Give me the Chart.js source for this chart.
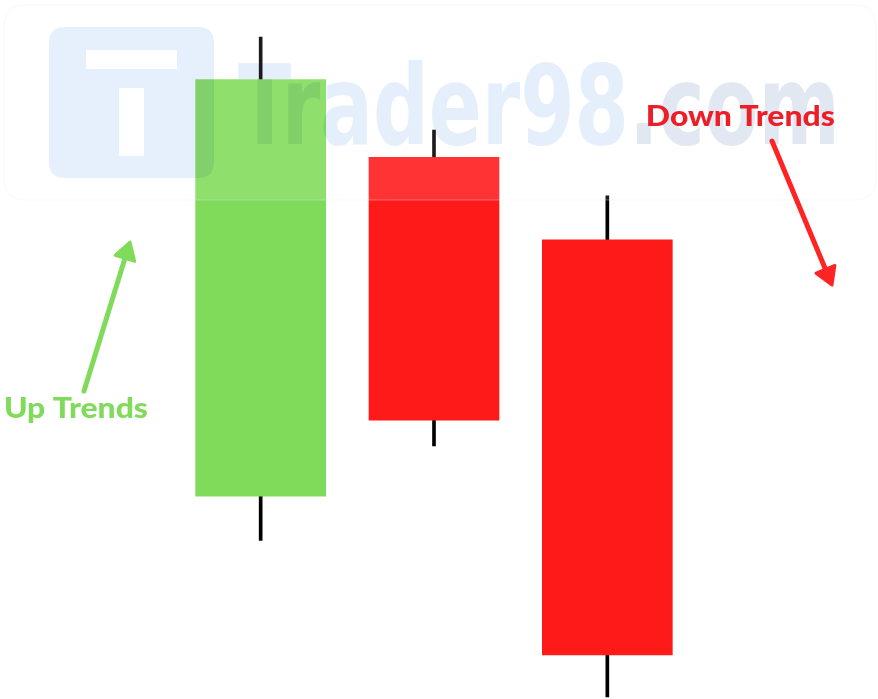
<!DOCTYPE html>
<html>
<head>
<meta charset="utf-8">
<script src="https://cdn.jsdelivr.net/npm/chart.js@4.4.0/dist/chart.umd.min.js"></script>
<style>
html,body{margin:0;padding:0;background:#fff;}
#c{display:block;}
</style>
</head>
<body>
<canvas id="c" width="878" height="699"></canvas>
<script>
// ---- data ----
const categories = ["Candle 1", "Candle 2", "Candle 3"];
const openValues  = [29.0, 77.5, 65.7];
const closeValues = [88.6, 39.9, 6.3];
const highValues  = [94.7, 81.4, 72.0];
const lowValues   = [22.7, 36.2, 0.3];
const annotationLabels = ["Up Trends", "Down Trends"];
const watermarkText = ["Trader98", ".com"];

const GREEN = "#80DB5A", RED = "#FF1A1A";

const bodies = openValues.map((o, i) => [o, closeValues[i]]);
const wicks = lowValues.map((l, i) => [l, highValues[i]]);
const bodyColors = openValues.map((o, i) => closeValues[i] >= o ? GREEN : RED);

function roundRect(ctx, x, y, w, h, r) {
  ctx.beginPath();
  ctx.moveTo(x + r, y);
  ctx.lineTo(x + w - r, y);
  ctx.quadraticCurveTo(x + w, y, x + w, y + r);
  ctx.lineTo(x + w, y + h - r);
  ctx.quadraticCurveTo(x + w, y + h, x + w - r, y + h);
  ctx.lineTo(x + r, y + h);
  ctx.quadraticCurveTo(x, y + h, x, y + h - r);
  ctx.lineTo(x, y + r);
  ctx.quadraticCurveTo(x, y, x + r, y);
  ctx.closePath();
}

function fitText(ctx, text, left, baseline, width, size, font, color) {
  ctx.save();
  ctx.font = font.replace("SIZE", size + "px");
  const m = ctx.measureText(text);
  const w = m.actualBoundingBoxLeft + m.actualBoundingBoxRight;
  const sx = width / w;
  ctx.translate(left, baseline);
  ctx.scale(sx, 1);
  ctx.fillStyle = color;
  ctx.textBaseline = "alphabetic";
  ctx.fillText(text, m.actualBoundingBoxLeft, 0);
  ctx.restore();
}

function arrow(ctx, x1, y1, x2, y2, color, lw, head) {
  ctx.save();
  ctx.strokeStyle = color; ctx.fillStyle = color;
  ctx.lineWidth = lw; ctx.lineCap = "round"; ctx.lineJoin = "round";
  const a = Math.atan2(y2 - y1, x2 - x1);
  const bx = x2 - head * Math.cos(a), by = y2 - head * Math.sin(a);
  ctx.beginPath(); ctx.moveTo(x1, y1); ctx.lineTo(bx, by); ctx.stroke();
  const hw = head * 0.6;
  ctx.beginPath();
  ctx.moveTo(x2, y2);
  ctx.lineTo(bx + hw * Math.sin(a), by - hw * Math.cos(a));
  ctx.lineTo(bx - hw * Math.sin(a), by + hw * Math.cos(a));
  ctx.closePath();
  ctx.lineWidth = 3;
  ctx.fill(); ctx.stroke();
  ctx.restore();
}

const decorPlugin = {
  id: "decor",
  afterDatasetsDraw(chart) {
    const ctx = chart.ctx;
    // translucent watermark panel
    ctx.save();
    roundRect(ctx, 4, 5, 872, 195, 22);
    ctx.fillStyle = "rgba(255,255,255,0.11)";
    ctx.fill();
    ctx.strokeStyle = "rgba(230,232,236,0.35)";
    ctx.lineWidth = 1;
    ctx.stroke();
    ctx.restore();

    // watermark logo + text with multiply blending
    ctx.save();
    ctx.globalCompositeOperation = "multiply";
    roundRect(ctx, 49, 27, 165, 151, 16);
    ctx.fillStyle = "#E6EFFC";
    ctx.fill();
    ctx.globalCompositeOperation = "source-over";
    ctx.fillStyle = "#ffffff";
    ctx.fillRect(86, 50, 91, 19);
    ctx.fillRect(119, 88, 25, 68);
    ctx.globalCompositeOperation = "multiply";
    const font = "bold 100px 'DejaVu Sans Condensed', 'Liberation Sans Narrow', sans-serif";
    ctx.font = font;
    const full = watermarkText.join("");
    const m = ctx.measureText(full);
    const w1 = ctx.measureText(watermarkText[0]).width;
    const tw = m.actualBoundingBoxLeft + m.actualBoundingBoxRight;
    const th = m.actualBoundingBoxAscent;
    const sx = (834 - 238) / tw, sy = (144 - 60) / th;
    ctx.translate(238, 144);
    ctx.scale(sx, sy);
    ctx.textBaseline = "alphabetic";
    ctx.fillStyle = "#E5EEFB";
    ctx.fillText(watermarkText[0], m.actualBoundingBoxLeft, 0);
    ctx.fillStyle = "#E2E8F1";
    ctx.fillText(watermarkText[1], m.actualBoundingBoxLeft + w1, 0);
    ctx.restore();

    // annotations
    const tfont = "900 SIZE Lato, 'Open Sans', sans-serif";
    fitText(ctx, annotationLabels[0], 5, 418, 142, 29, tfont, GREEN);
    fitText(ctx, annotationLabels[1], 648, 126, 186, 29, tfont, "#EC1E27");
    arrow(ctx, 84, 391, 130, 242, GREEN, 5, 17);
    arrow(ctx, 772, 141, 832, 285, "#FF2424", 5, 17);
  }
};

new Chart(document.getElementById("c"), {
  type: "bar",
  data: {
    labels: categories,
    datasets: [
      {
        label: "Body",
        data: bodies,
        backgroundColor: bodyColors,
        borderWidth: 0,
        borderSkipped: false,
        barThickness: 130,
        grouped: false,
        order: 0
      },
      {
        label: "Wick",
        data: wicks,
        backgroundColor: "#000000",
        borderWidth: 0,
        borderSkipped: false,
        barThickness: 3,
        grouped: false,
        order: 1
      }
    ]
  },
  options: {
    responsive: false,
    animation: false,
    devicePixelRatio: 1,
    layout: { padding: { left: 174, right: 184, top: 0, bottom: 0 } },
    plugins: { legend: { display: false }, tooltip: { enabled: false } },
    scales: {
      x: { display: false, offset: true },
      y: { display: false, min: 0, max: 100 }
    }
  },
  plugins: [decorPlugin]
});
</script>
</body>
</html>
